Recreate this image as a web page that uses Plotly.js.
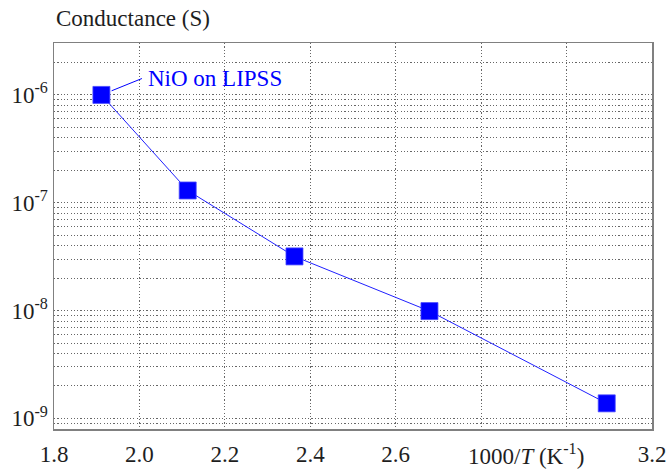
<!DOCTYPE html>
<html>
<head>
<meta charset="utf-8">
<script src="https://cdn.plot.ly/plotly-3.0.1.min.js"></script>
<style>
html,body{margin:0;padding:0;background:#fff;}
#chart{width:672px;height:470px;}
</style>
</head>
<body>
<div id="chart"></div>
<script>
// ---- data ----
const inverseTemp = [1.911, 2.113, 2.363, 2.679, 3.094];
const conductance = [1.0e-6, 1.30e-7, 3.18e-8, 9.9e-9, 1.38e-9];
const seriesLabel = 'NiO on LIPSS';

// ---- tick labels ----
const xTickVals = [1.8, 2.0, 2.2, 2.4, 2.6, 3.2];
const xTickText = ['1.8', '2.0', '2.2', '2.4', '2.6', '3.2'];
const yTickVals = [1e-9, 1e-8, 1e-7, 1e-6];
const yTickText = ['10<sup>-9</sup>', '10<sup>-8</sup>', '10<sup>-7</sup>', '10<sup>-6</sup>'];
const yTitle = 'Conductance (S)';
const xTitle = '1000/<i>T</i> (K<sup>-1</sup>)';

const FONT = 'Liberation Serif';
const TXT = '#1e1e1e';
const gridStyle = {gridcolor: '#666666', gridwidth: 1, griddash: '1.2px,2.1px'};

const trace = {
  x: inverseTemp,
  y: conductance,
  type: 'scatter',
  mode: 'lines+markers',
  line: {color: '#2020ff', width: 1},
  marker: {symbol: 'square', size: 17, color: '#0000ff', line: {color: '#4a4aff', width: 0.8}},
  hoverinfo: 'none'
};

const layout = {
  width: 672,
  height: 470,
  margin: {l: 54, r: 20, t: 43, b: 41},
  paper_bgcolor: '#ffffff',
  plot_bgcolor: '#ffffff',
  showlegend: false,
  font: {family: FONT, size: 23, color: TXT},
  xaxis: Object.assign({
    range: [1.8, 3.2],
    tickmode: 'array',
    tickvals: xTickVals,
    ticktext: xTickText,
    showgrid: true,
    minor: Object.assign({tick0: 1.8, dtick: 0.2, showgrid: true, ticks: ''}, gridStyle),
    showline: true,
    mirror: true,
    linecolor: '#808080',
    linewidth: 1.5,
    ticks: '',
    ticklabelstandoff: 4,
    zeroline: false,
    tickfont: {family: FONT, size: 23, color: TXT}
  }, gridStyle),
  yaxis: Object.assign({
    type: 'log',
    range: [-9.098, -5.5185],
    tickmode: 'array',
    tickvals: yTickVals,
    ticktext: yTickText,
    showgrid: true,
    minor: Object.assign({dtick: 'D1', showgrid: true, ticks: ''}, gridStyle),
    showline: true,
    mirror: true,
    linecolor: '#808080',
    linewidth: 1.5,
    ticks: '',
    zeroline: false,
    tickfont: {family: FONT, size: 23, color: TXT}
  }, gridStyle),
  annotations: [
    {
      text: yTitle, xref: 'paper', yref: 'paper', x: 0, y: 1,
      xanchor: 'left', yanchor: 'bottom', yshift: 10, xshift: 0,
      showarrow: false, font: {family: FONT, size: 23, color: TXT}
    },
    {
      text: xTitle, xref: 'x', yref: 'paper', x: 2.906, y: 0,
      xanchor: 'center', yanchor: 'top', yshift: -9,
      showarrow: false, font: {family: FONT, size: 23, color: TXT}
    },
    {
      text: seriesLabel, xref: 'x', yref: 'y', x: inverseTemp[0], y: Math.log10(conductance[0]),
      xanchor: 'left', yanchor: 'middle', xshift: 45, yshift: 16,
      showarrow: false,
      font: {family: FONT, size: 23, color: '#0000ff'}
    },
    {
      text: '', xref: 'x', yref: 'y', x: inverseTemp[0], y: Math.log10(conductance[0]),
      axref: 'pixel', ayref: 'pixel', ax: 42, ay: -17,
      showarrow: true, arrowhead: 0, arrowwidth: 1, arrowcolor: '#0000ff',
      standoff: 11, startstandoff: 0
    }
  ]
};

Plotly.newPlot('chart', [trace], layout, {staticPlot: true, displayModeBar: false});
</script>
</body>
</html>
